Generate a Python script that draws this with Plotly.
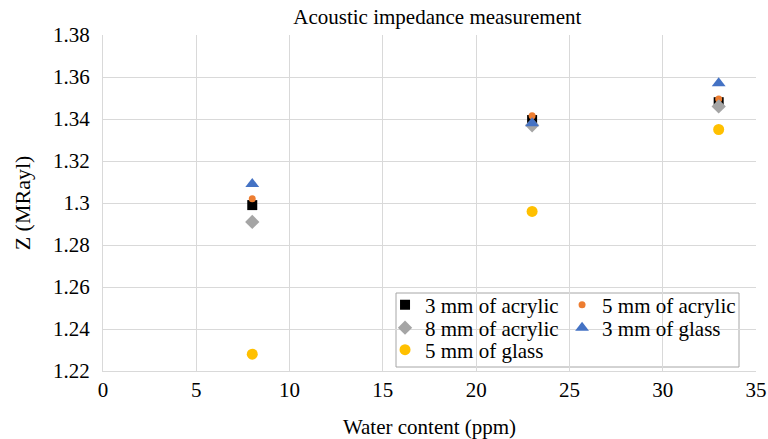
import plotly.graph_objects as go

water_ppm = [8, 23, 33]
acrylic_3mm = [1.299, 1.3395, 1.348]
acrylic_5mm = [1.302, 1.3415, 1.3495]
acrylic_8mm = [1.291, 1.337, 1.346]
glass_3mm = [1.309, 1.338, 1.357]
glass_5mm = [1.228, 1.296, 1.335]

series = [
    ("3 mm of acrylic", acrylic_3mm, "square", "#000000", 10),
    ("5 mm of acrylic", acrylic_5mm, "circle", "#ED7D31", 7),
    ("8 mm of acrylic", acrylic_8mm, "diamond", "#A5A5A5", 11),
    ("3 mm of glass", glass_3mm, "triangle-up", "#4472C4", 12),
    ("5 mm of glass", glass_5mm, "circle", "#FFC000", 11),
]
legend_ids = ["legend", "legend2", "legend3", "legend4", "legend5"]

FONT = "Liberation Serif"
fig = go.Figure()
for (name, ys, sym, col, sz), lg in zip(series, legend_ids):
    fig.add_trace(go.Scatter(
        x=water_ppm, y=ys, mode="markers", name=name, legend=lg,
        marker=dict(symbol=sym, color=col, size=sz, line=dict(width=0)),
    ))

# legend placement (paper coords): two columns, three rows
col_x = [0.4319, 0.703]
row_y = [0.1964, 0.128, 0.0625]
pos = [(0, 0), (1, 0), (0, 1), (1, 1), (0, 2)]
legend_layout = {}
for lg, (c, r) in zip(legend_ids, pos):
    legend_layout[lg] = dict(
        x=col_x[c], y=row_y[r], xanchor="left", yanchor="middle",
        bgcolor="rgba(0,0,0,0)", borderwidth=0,
        font=dict(family=FONT, size=21, color="#000000"),
        itemwidth=30,
    )

fig.update_layout(
    width=768, height=439,
    margin=dict(l=103, r=12, t=35, b=68),
    paper_bgcolor="white", plot_bgcolor="white",
    showlegend=True,
    font=dict(family=FONT, size=21, color="#000000"),
    title=dict(text="Acoustic impedance measurement", x=0.512, xref="paper",
               xanchor="center", y=1 - 17 / 439, yref="container", yanchor="middle",
               font=dict(family=FONT, size=21, color="#000000")),
    xaxis=dict(range=[0, 35], dtick=5, tick0=0, showgrid=True, gridcolor="#d9d9d9",
               gridwidth=1, zeroline=False, showline=True, linecolor="#d9d9d9",
               ticks="", automargin=False,
               title=dict(text="Water content (ppm)", standoff=18,
                          font=dict(family=FONT, size=21)),
               tickfont=dict(family=FONT, size=21)),
    yaxis=dict(range=[1.22, 1.38], dtick=0.02, tick0=1.22, showgrid=True,
               gridcolor="#d9d9d9", gridwidth=1, zeroline=False, showline=True,
               linecolor="#d9d9d9", ticks="", ticklabelstandoff=8, automargin=False,
               tickvals=[1.22, 1.24, 1.26, 1.28, 1.3, 1.32, 1.34, 1.36, 1.38],
               ticktext=["1.22", "1.24", "1.26", "1.28", "1.3", "1.32", "1.34", "1.36", "1.38"],
               title=dict(text="Z (MRayl)", standoff=16, font=dict(family=FONT, size=22)),
               tickfont=dict(family=FONT, size=21)),
    shapes=[dict(type="rect", xref="paper", yref="paper",
                 x0=(396 - 103) / 653, x1=(739 - 103) / 653,
                 y0=1 - (367 - 35) / 336, y1=1 - (293 - 35) / 336,
                 line=dict(color="#a6a6a6", width=1), fillcolor="white", layer="below")],
    **legend_layout,
)

fig.write_html("out.html")
